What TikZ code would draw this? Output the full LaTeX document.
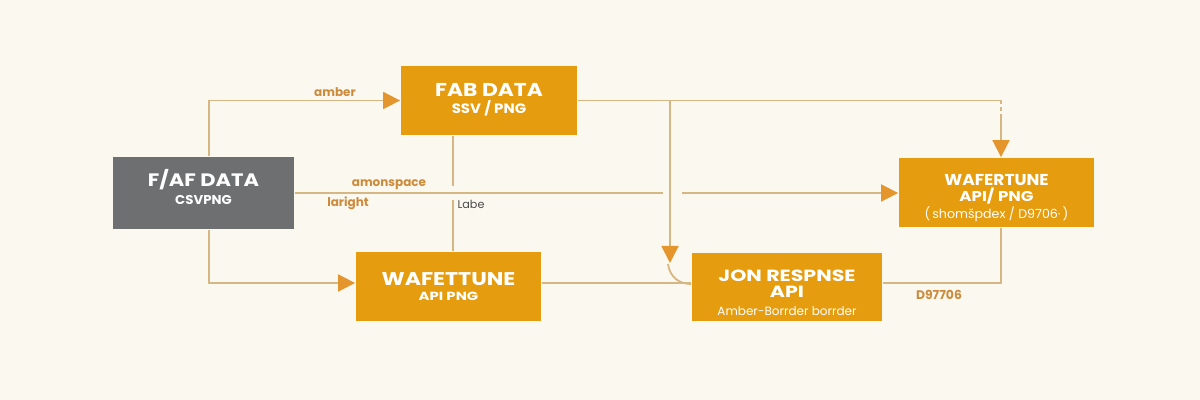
\documentclass[tikz,border=0pt]{standalone}
\usepackage{fontspec}
\setmainfont{Poppins}
\usetikzlibrary{arrows.meta}
\definecolor{paper}{HTML}{FBF8F0}
\definecolor{amberfill}{HTML}{E59C0F}
\definecolor{slate}{HTML}{6E6F71}
\definecolor{wiretan}{HTML}{D6B783}
\definecolor{tipamber}{HTML}{E4952B}
\definecolor{labelamber}{HTML}{CD8B3C}
\definecolor{labelgray}{HTML}{4A4A4A}
% bold box text, widened: size, stretch
\newcommand{\boxfont}[2]{\bfseries\fontsize{#1}{#1}\selectfont\addfontfeature{FakeStretch=#2}}

\begin{document}
\begin{tikzpicture}[
    x=0.5pt, y=-0.5pt,
    font=\rmfamily,
    line width=0.9pt,
    every node/.style={font=\rmfamily},
    ambox/.style={rectangle, fill=amberfill, draw=none, inner sep=0pt},
    greybox/.style={rectangle, fill=slate, draw=none, inner sep=0pt},
    flow/.style={draw=wiretan, line width=0.9pt},
    tipped/.style={-{Triangle[length=8.5pt, width=8.5pt, color=tipamber]}},
    boxtext/.style={anchor=base, text=white, inner sep=0pt},
    wirelabel/.style={anchor=center, text=labelamber, inner sep=0pt},
  ]

  % ---------- Canvas --------------------------------------------------------
  \fill[paper] (0,0) rectangle (1200,400);
  \useasboundingbox (0,0) rectangle (1200,400);

  % ---------- Boxes (pixel frame, y down) -----------------------------------
  % F/AF DATA: (113,157) -> (294,229)
  \node[greybox, minimum width=90.5pt, minimum height=36pt] (faf) at (203.5,193) {};
  \node[boxtext, font=\boxfont{9}{1.17}] (faftitle)
    at (203.5,187) {F/AF DATA};
  \node[boxtext, font=\boxfont{6.4}{1.04}] (fafsub)
    at (203.5,205) {CSVPNG};

  % FAB DATA: (401,66) -> (577,135)
  \node[ambox, minimum width=88pt, minimum height=34.5pt] (fab) at (489,100.5) {};
  \node[boxtext, font=\boxfont{9.3}{1.17}] (fabtitle)
    at (489,97) {FAB DATA};
  \node[boxtext, font=\boxfont{6.8}{1.1}] (fabsub)
    at (489,114) {SSV / PNG};

  % WAFERTUNE (right): (899,158) -> (1094,227)
  \node[ambox, minimum width=97.5pt, minimum height=34.5pt] (wfr) at (996.5,192.5) {};
  \node[boxtext, font=\boxfont{7.9}{1.08}] (wfrtitle)
    at (996.5,186) {WAFERTUNE};
  \node[boxtext, font=\boxfont{7.1}{1.17}] (wfrsub)
    at (996.5,202) {API/ PNG};
  \node[boxtext, font=\fontsize{6.3}{7}\selectfont] (wfrnote)
    at (996.5,219) {(\,shomšpdex / D9706·\,)};

  % WAFETTUNE (bottom): (356,252) -> (541,321)
  \node[ambox, minimum width=92.5pt, minimum height=34.5pt] (wfb) at (448.5,286.5) {};
  \node[boxtext, font=\boxfont{9.2}{1.2}] (wfbtitle)
    at (448.5,286) {WAFETTUNE};
  \node[boxtext, font=\boxfont{5.9}{1.26}] (wfbsub)
    at (448.5,301) {API PNG};

  % JON RESPNSE: (692,253) -> (882,321)
  \node[ambox, minimum width=95pt, minimum height=34pt] (jon) at (787,287) {};
  \node[boxtext, font=\boxfont{8.1}{1.27}] (jontitle)
    at (787,282) {JON RESPNSE};
  \node[boxtext, font=\boxfont{8.1}{1.27}] (jonapi)
    at (787,298) {API};
  \node[boxtext, font=\fontsize{6}{7}\selectfont] (jonsub)
    at (787,316) {Amber-Borrder borrder};

  % ---------- Bends and breaks ----------------------------------------------
  \coordinate (corner) at (1001,100.5);
  \coordinate (dashend) at (1001,114);
  \coordinate (branch) at (670,100.5);
  \coordinate (jontip) at (670,263);
  \coordinate (gapL) at (663,193);
  \coordinate (gapR) at (682,193);
  \coordinate (brkT) at (453,186);
  \coordinate (brkB) at (453,200);

  % ---------- Connectors ----------------------------------------------------
  \draw[flow, tipped] ([xshift=2.75pt]faf.north) |- (fab.west);
  \draw[flow, tipped] ([xshift=2.75pt]faf.south) |- ([yshift=1.75pt]wfb.west);

  \draw[flow] (faf.east) -- (gapL);
  \draw[flow, tipped] (gapR) -- (gapR -| wfr.west);

  \draw[flow] (fab.south -| brkT) -- (brkT);
  \draw[flow] (brkB) -- (wfb.north -| brkB);

  \draw[flow] (fab.east) -- (corner);
  \draw[flow, dash pattern=on 2pt off 1.5pt] (corner) -- (dashend);
  \draw[flow, tipped] (dashend) -- (wfr.north -| corner);

  \draw[flow, tipped] (branch) -- (jontip);
  \draw[flow] (668,264) .. controls (670,278) and (680,284) .. (jon.west |- 0,284);

  \draw[flow] ([yshift=1.75pt]wfb.east) -- ([yshift=1.75pt]wfb.east -| jon.west);
  \draw[flow] ([yshift=2pt]jon.east) -| (wfr.south -| corner);

  % ---------- Wire labels ---------------------------------------------------
  \node[wirelabel, font=\bfseries\fontsize{6}{7}\selectfont] (lamber)
    at (335,92) {amber};
  \node[wirelabel, font=\bfseries\fontsize{6}{7}\selectfont] (lspace)
    at (389,185) {amonspace};
  \node[wirelabel, font=\bfseries\fontsize{6}{7}\selectfont] (lright)
    at (348,203) {laright};
  \node[anchor=center, inner sep=0pt, text=labelgray, font=\fontsize{5.6}{7}\selectfont] (llabe)
    at (471,204) {Labe};
  \node[wirelabel, font=\bfseries\fontsize{6.2}{7}\selectfont] (lhex)
    at (939,295) {D97706};

\end{tikzpicture}
\end{document}
